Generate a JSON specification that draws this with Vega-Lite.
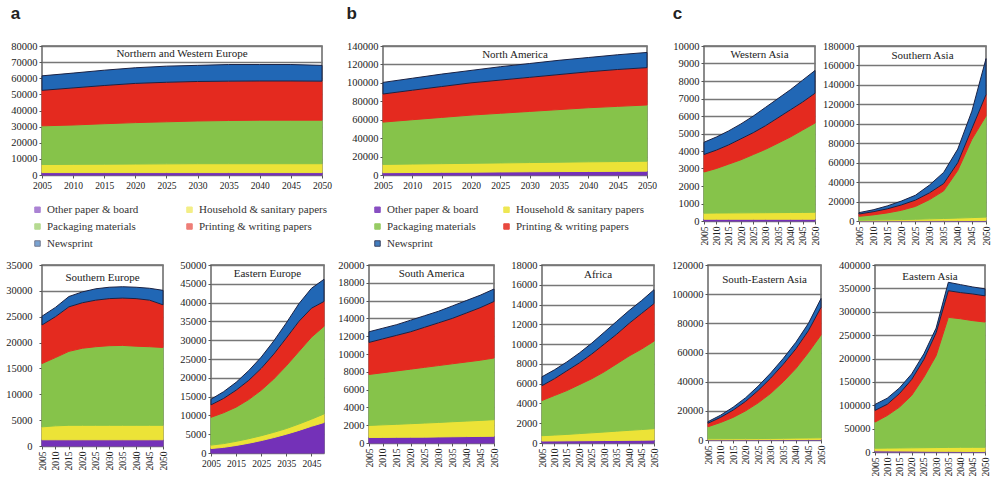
{
"$schema": "https://vega.github.io/schema/vega-lite/v6.json",
"padding": {"left": 5, "top": 4, "right": 0, "bottom": 0},
"background": "white",
"config": {
 "font": "Liberation Serif",
 "view": {"stroke": "#666", "strokeWidth": 1.5},
 "axis": {"labelFont": "Liberation Serif", "labelColor": "#222", "domain": false, "tickColor": "#555", "tickSize": 3, "labelPadding": 2, "gridColor": "#777", "gridWidth": 1.3, "labelFlush": false, "labelOverlap": false},
 "axisY": {"labelFontSize": 10.5, "grid": true},
 "axisX": {"labelFontSize": 9.5, "grid": false},
 "title": {"font": "Liberation Sans", "fontSize": 17, "fontWeight": "bold", "color": "#222", "anchor": "start", "frame": "bounds", "offset": 18},
 "text": {"font": "Liberation Serif", "fontSize": 11, "color": "#222"},
 "area": {"strokeWidth": 1}
},
"datasets": {
"NWE": [
{"yr":2005,"t":"a","v":1500},{"yr":2010,"t":"a","v":1500},{"yr":2015,"t":"a","v":1500},{"yr":2020,"t":"a","v":1500},{"yr":2025,"t":"a","v":1500},{"yr":2030,"t":"a","v":1500},{"yr":2035,"t":"a","v":1500},{"yr":2040,"t":"a","v":1500},{"yr":2045,"t":"a","v":1500},{"yr":2050,"t":"a","v":1500},
{"yr":2005,"t":"b","v":5000},{"yr":2010,"t":"b","v":5100},{"yr":2015,"t":"b","v":5200},{"yr":2020,"t":"b","v":5300},{"yr":2025,"t":"b","v":5400},{"yr":2030,"t":"b","v":5500},{"yr":2035,"t":"b","v":5500},{"yr":2040,"t":"b","v":5500},{"yr":2045,"t":"b","v":5500},{"yr":2050,"t":"b","v":5500},
{"yr":2005,"t":"c","v":24000},{"yr":2010,"t":"c","v":24400},{"yr":2015,"t":"c","v":25100},{"yr":2020,"t":"c","v":25700},{"yr":2025,"t":"c","v":26100},{"yr":2030,"t":"c","v":26500},{"yr":2035,"t":"c","v":26800},{"yr":2040,"t":"c","v":27000},{"yr":2045,"t":"c","v":27000},{"yr":2050,"t":"c","v":27000},
{"yr":2005,"t":"d","v":22000},{"yr":2010,"t":"d","v":23000},{"yr":2015,"t":"d","v":23700},{"yr":2020,"t":"d","v":24300},{"yr":2025,"t":"d","v":24500},{"yr":2030,"t":"d","v":24500},{"yr":2035,"t":"d","v":24400},{"yr":2040,"t":"d","v":24300},{"yr":2045,"t":"d","v":24300},{"yr":2050,"t":"d","v":24200},
{"yr":2005,"t":"e","v":9000},{"yr":2010,"t":"e","v":9200},{"yr":2015,"t":"e","v":9500},{"yr":2020,"t":"e","v":9700},{"yr":2025,"t":"e","v":10000},{"yr":2030,"t":"e","v":10000},{"yr":2035,"t":"e","v":10300},{"yr":2040,"t":"e","v":10200},{"yr":2045,"t":"e","v":10200},{"yr":2050,"t":"e","v":9800}
],
"SEur": [
{"yr":2005,"t":"a","v":1200},{"yr":2010,"t":"a","v":1200},{"yr":2015,"t":"a","v":1200},{"yr":2020,"t":"a","v":1200},{"yr":2025,"t":"a","v":1200},{"yr":2030,"t":"a","v":1200},{"yr":2035,"t":"a","v":1200},{"yr":2040,"t":"a","v":1200},{"yr":2045,"t":"a","v":1200},{"yr":2050,"t":"a","v":1200},
{"yr":2005,"t":"b","v":2500},{"yr":2010,"t":"b","v":2700},{"yr":2015,"t":"b","v":2800},{"yr":2020,"t":"b","v":2800},{"yr":2025,"t":"b","v":2800},{"yr":2030,"t":"b","v":2800},{"yr":2035,"t":"b","v":2800},{"yr":2040,"t":"b","v":2800},{"yr":2045,"t":"b","v":2800},{"yr":2050,"t":"b","v":2800},
{"yr":2005,"t":"c","v":12250},{"yr":2010,"t":"c","v":13200},{"yr":2015,"t":"c","v":14300},{"yr":2020,"t":"c","v":14900},{"yr":2025,"t":"c","v":15200},{"yr":2030,"t":"c","v":15400},{"yr":2035,"t":"c","v":15450},{"yr":2040,"t":"c","v":15300},{"yr":2045,"t":"c","v":15200},{"yr":2050,"t":"c","v":15050},
{"yr":2005,"t":"d","v":7450},{"yr":2010,"t":"d","v":7900},{"yr":2015,"t":"d","v":8600},{"yr":2020,"t":"d","v":8800},{"yr":2025,"t":"d","v":9000},{"yr":2030,"t":"d","v":9100},{"yr":2035,"t":"d","v":9150},{"yr":2040,"t":"d","v":9200},{"yr":2045,"t":"d","v":9000},{"yr":2050,"t":"d","v":8250},
{"yr":2005,"t":"e","v":1700},{"yr":2010,"t":"e","v":1800},{"yr":2015,"t":"e","v":2000},{"yr":2020,"t":"e","v":2100},{"yr":2025,"t":"e","v":2200},{"yr":2030,"t":"e","v":2200},{"yr":2035,"t":"e","v":2200},{"yr":2040,"t":"e","v":2200},{"yr":2045,"t":"e","v":2300},{"yr":2050,"t":"e","v":2800}
],
"EEur": [
{"yr":2005,"t":"a","v":1200},{"yr":2010,"t":"a","v":1500},{"yr":2015,"t":"a","v":2000},{"yr":2020,"t":"a","v":2600},{"yr":2025,"t":"a","v":3300},{"yr":2030,"t":"a","v":4100},{"yr":2035,"t":"a","v":5000},{"yr":2040,"t":"a","v":6000},{"yr":2045,"t":"a","v":7100},{"yr":2050,"t":"a","v":8100},
{"yr":2005,"t":"b","v":900},{"yr":2010,"t":"b","v":1000},{"yr":2015,"t":"b","v":1100},{"yr":2020,"t":"b","v":1200},{"yr":2025,"t":"b","v":1300},{"yr":2030,"t":"b","v":1400},{"yr":2035,"t":"b","v":1500},{"yr":2040,"t":"b","v":1700},{"yr":2045,"t":"b","v":1900},{"yr":2050,"t":"b","v":2300},
{"yr":2005,"t":"c","v":7400},{"yr":2010,"t":"c","v":8200},{"yr":2015,"t":"c","v":9100},{"yr":2020,"t":"c","v":10400},{"yr":2025,"t":"c","v":12100},{"yr":2030,"t":"c","v":14200},{"yr":2035,"t":"c","v":16700},{"yr":2040,"t":"c","v":19300},{"yr":2045,"t":"c","v":21800},{"yr":2050,"t":"c","v":23300},
{"yr":2005,"t":"d","v":3300},{"yr":2010,"t":"d","v":3800},{"yr":2015,"t":"d","v":4500},{"yr":2020,"t":"d","v":5100},{"yr":2025,"t":"d","v":5800},{"yr":2030,"t":"d","v":6600},{"yr":2035,"t":"d","v":7400},{"yr":2040,"t":"d","v":8000},{"yr":2045,"t":"d","v":7700},{"yr":2050,"t":"d","v":6600},
{"yr":2005,"t":"e","v":1500},{"yr":2010,"t":"e","v":1800},{"yr":2015,"t":"e","v":2100},{"yr":2020,"t":"e","v":2600},{"yr":2025,"t":"e","v":3000},{"yr":2030,"t":"e","v":3500},{"yr":2035,"t":"e","v":4000},{"yr":2040,"t":"e","v":4700},{"yr":2045,"t":"e","v":5300},{"yr":2050,"t":"e","v":5900}
],
"NA": [
{"yr":2005,"t":"a","v":2500},{"yr":2010,"t":"a","v":2700},{"yr":2015,"t":"a","v":2900},{"yr":2020,"t":"a","v":3100},{"yr":2025,"t":"a","v":3300},{"yr":2030,"t":"a","v":3500},{"yr":2035,"t":"a","v":3700},{"yr":2040,"t":"a","v":3800},{"yr":2045,"t":"a","v":4000},{"yr":2050,"t":"a","v":4200},
{"yr":2005,"t":"b","v":9000},{"yr":2010,"t":"b","v":9200},{"yr":2015,"t":"b","v":9400},{"yr":2020,"t":"b","v":9600},{"yr":2025,"t":"b","v":9800},{"yr":2030,"t":"b","v":10000},{"yr":2035,"t":"b","v":10200},{"yr":2040,"t":"b","v":10500},{"yr":2045,"t":"b","v":10600},{"yr":2050,"t":"b","v":10800},
{"yr":2005,"t":"c","v":45900},{"yr":2010,"t":"c","v":48100},{"yr":2015,"t":"c","v":50200},{"yr":2020,"t":"c","v":52300},{"yr":2025,"t":"c","v":53900},{"yr":2030,"t":"c","v":55500},{"yr":2035,"t":"c","v":57100},{"yr":2040,"t":"c","v":58700},{"yr":2045,"t":"c","v":59900},{"yr":2050,"t":"c","v":61000},
{"yr":2005,"t":"d","v":30500},{"yr":2010,"t":"d","v":32000},{"yr":2015,"t":"d","v":33500},{"yr":2020,"t":"d","v":35000},{"yr":2025,"t":"d","v":36000},{"yr":2030,"t":"d","v":37000},{"yr":2035,"t":"d","v":38000},{"yr":2040,"t":"d","v":39000},{"yr":2045,"t":"d","v":40000},{"yr":2050,"t":"d","v":40500},
{"yr":2005,"t":"e","v":12600},{"yr":2010,"t":"e","v":13000},{"yr":2015,"t":"e","v":13500},{"yr":2020,"t":"e","v":13500},{"yr":2025,"t":"e","v":14500},{"yr":2030,"t":"e","v":15000},{"yr":2035,"t":"e","v":15500},{"yr":2040,"t":"e","v":15500},{"yr":2045,"t":"e","v":16000},{"yr":2050,"t":"e","v":16500}
],
"SAm": [
{"yr":2005,"t":"a","v":620},{"yr":2010,"t":"a","v":630},{"yr":2015,"t":"a","v":640},{"yr":2020,"t":"a","v":650},{"yr":2025,"t":"a","v":660},{"yr":2030,"t":"a","v":680},{"yr":2035,"t":"a","v":700},{"yr":2040,"t":"a","v":720},{"yr":2045,"t":"a","v":740},{"yr":2050,"t":"a","v":760},
{"yr":2005,"t":"b","v":1360},{"yr":2010,"t":"b","v":1410},{"yr":2015,"t":"b","v":1460},{"yr":2020,"t":"b","v":1520},{"yr":2025,"t":"b","v":1580},{"yr":2030,"t":"b","v":1630},{"yr":2035,"t":"b","v":1690},{"yr":2040,"t":"b","v":1740},{"yr":2045,"t":"b","v":1800},{"yr":2050,"t":"b","v":1860},
{"yr":2005,"t":"c","v":5720},{"yr":2010,"t":"c","v":5860},{"yr":2015,"t":"c","v":6000},{"yr":2020,"t":"c","v":6130},{"yr":2025,"t":"c","v":6260},{"yr":2030,"t":"c","v":6390},{"yr":2035,"t":"c","v":6510},{"yr":2040,"t":"c","v":6640},{"yr":2045,"t":"c","v":6760},{"yr":2050,"t":"c","v":6930},
{"yr":2005,"t":"d","v":3600},{"yr":2010,"t":"d","v":3800},{"yr":2015,"t":"d","v":4000},{"yr":2020,"t":"d","v":4200},{"yr":2025,"t":"d","v":4500},{"yr":2030,"t":"d","v":4800},{"yr":2035,"t":"d","v":5100},{"yr":2040,"t":"d","v":5500},{"yr":2045,"t":"d","v":5900},{"yr":2050,"t":"d","v":6350},
{"yr":2005,"t":"e","v":1200},{"yr":2010,"t":"e","v":1200},{"yr":2015,"t":"e","v":1200},{"yr":2020,"t":"e","v":1300},{"yr":2025,"t":"e","v":1300},{"yr":2030,"t":"e","v":1300},{"yr":2035,"t":"e","v":1400},{"yr":2040,"t":"e","v":1400},{"yr":2045,"t":"e","v":1400},{"yr":2050,"t":"e","v":1400}
],
"Afr": [
{"yr":2005,"t":"a","v":200},{"yr":2010,"t":"a","v":210},{"yr":2015,"t":"a","v":220},{"yr":2020,"t":"a","v":230},{"yr":2025,"t":"a","v":240},{"yr":2030,"t":"a","v":250},{"yr":2035,"t":"a","v":260},{"yr":2040,"t":"a","v":270},{"yr":2045,"t":"a","v":280},{"yr":2050,"t":"a","v":300},
{"yr":2005,"t":"b","v":540},{"yr":2010,"t":"b","v":590},{"yr":2015,"t":"b","v":650},{"yr":2020,"t":"b","v":720},{"yr":2025,"t":"b","v":790},{"yr":2030,"t":"b","v":860},{"yr":2035,"t":"b","v":940},{"yr":2040,"t":"b","v":1010},{"yr":2045,"t":"b","v":1080},{"yr":2050,"t":"b","v":1150},
{"yr":2005,"t":"c","v":3560},{"yr":2010,"t":"c","v":4000},{"yr":2015,"t":"c","v":4430},{"yr":2020,"t":"c","v":4950},{"yr":2025,"t":"c","v":5470},{"yr":2030,"t":"c","v":6090},{"yr":2035,"t":"c","v":6800},{"yr":2040,"t":"c","v":7520},{"yr":2045,"t":"c","v":8140},{"yr":2050,"t":"c","v":8850},
{"yr":2005,"t":"d","v":1500},{"yr":2010,"t":"d","v":1700},{"yr":2015,"t":"d","v":2000},{"yr":2020,"t":"d","v":2200},{"yr":2025,"t":"d","v":2500},{"yr":2030,"t":"d","v":2800},{"yr":2035,"t":"d","v":3000},{"yr":2040,"t":"d","v":3300},{"yr":2045,"t":"d","v":3600},{"yr":2050,"t":"d","v":3800},
{"yr":2005,"t":"e","v":900},{"yr":2010,"t":"e","v":900},{"yr":2015,"t":"e","v":900},{"yr":2020,"t":"e","v":1000},{"yr":2025,"t":"e","v":1100},{"yr":2030,"t":"e","v":1200},{"yr":2035,"t":"e","v":1300},{"yr":2040,"t":"e","v":1300},{"yr":2045,"t":"e","v":1300},{"yr":2050,"t":"e","v":1400}
],
"WAsia": [
{"yr":2005,"t":"a","v":100},{"yr":2010,"t":"a","v":100},{"yr":2015,"t":"a","v":100},{"yr":2020,"t":"a","v":100},{"yr":2025,"t":"a","v":100},{"yr":2030,"t":"a","v":100},{"yr":2035,"t":"a","v":100},{"yr":2040,"t":"a","v":100},{"yr":2045,"t":"a","v":100},{"yr":2050,"t":"a","v":100},
{"yr":2005,"t":"b","v":350},{"yr":2010,"t":"b","v":355},{"yr":2015,"t":"b","v":360},{"yr":2020,"t":"b","v":365},{"yr":2025,"t":"b","v":370},{"yr":2030,"t":"b","v":375},{"yr":2035,"t":"b","v":380},{"yr":2040,"t":"b","v":385},{"yr":2045,"t":"b","v":390},{"yr":2050,"t":"b","v":400},
{"yr":2005,"t":"c","v":2350},{"yr":2010,"t":"c","v":2545},{"yr":2015,"t":"c","v":2790},{"yr":2020,"t":"c","v":3035},{"yr":2025,"t":"c","v":3330},{"yr":2030,"t":"c","v":3625},{"yr":2035,"t":"c","v":3970},{"yr":2040,"t":"c","v":4315},{"yr":2045,"t":"c","v":4710},{"yr":2050,"t":"c","v":5100},
{"yr":2005,"t":"d","v":1000},{"yr":2010,"t":"d","v":1050},{"yr":2015,"t":"d","v":1100},{"yr":2020,"t":"d","v":1200},{"yr":2025,"t":"d","v":1250},{"yr":2030,"t":"d","v":1350},{"yr":2035,"t":"d","v":1450},{"yr":2040,"t":"d","v":1550},{"yr":2045,"t":"d","v":1600},{"yr":2050,"t":"d","v":1700},
{"yr":2005,"t":"e","v":700},{"yr":2010,"t":"e","v":750},{"yr":2015,"t":"e","v":800},{"yr":2020,"t":"e","v":850},{"yr":2025,"t":"e","v":950},{"yr":2030,"t":"e","v":1050},{"yr":2035,"t":"e","v":1100},{"yr":2040,"t":"e","v":1150},{"yr":2045,"t":"e","v":1250},{"yr":2050,"t":"e","v":1300}
],
"SAsia": [
{"yr":2005,"t":"a","v":200},{"yr":2010,"t":"a","v":220},{"yr":2015,"t":"a","v":250},{"yr":2020,"t":"a","v":280},{"yr":2025,"t":"a","v":320},{"yr":2030,"t":"a","v":360},{"yr":2035,"t":"a","v":400},{"yr":2040,"t":"a","v":450},{"yr":2045,"t":"a","v":500},{"yr":2050,"t":"a","v":550},
{"yr":2005,"t":"b","v":600},{"yr":2010,"t":"b","v":780},{"yr":2015,"t":"b","v":950},{"yr":2020,"t":"b","v":1220},{"yr":2025,"t":"b","v":1480},{"yr":2030,"t":"b","v":1840},{"yr":2035,"t":"b","v":2200},{"yr":2040,"t":"b","v":2550},{"yr":2045,"t":"b","v":3000},{"yr":2050,"t":"b","v":3450},
{"yr":2005,"t":"c","v":4000},{"yr":2010,"t":"c","v":5300},{"yr":2015,"t":"c","v":7100},{"yr":2020,"t":"c","v":9500},{"yr":2025,"t":"c","v":13200},{"yr":2030,"t":"c","v":19800},{"yr":2035,"t":"c","v":28400},{"yr":2040,"t":"c","v":49000},{"yr":2045,"t":"c","v":80500},{"yr":2050,"t":"c","v":104000},
{"yr":2005,"t":"d","v":2400},{"yr":2010,"t":"d","v":3200},{"yr":2015,"t":"d","v":4200},{"yr":2020,"t":"d","v":5500},{"yr":2025,"t":"d","v":6500},{"yr":2030,"t":"d","v":7000},{"yr":2035,"t":"d","v":7500},{"yr":2040,"t":"d","v":8000},{"yr":2045,"t":"d","v":11000},{"yr":2050,"t":"d","v":22000},
{"yr":2005,"t":"e","v":1400},{"yr":2010,"t":"e","v":2000},{"yr":2015,"t":"e","v":3000},{"yr":2020,"t":"e","v":4000},{"yr":2025,"t":"e","v":5000},{"yr":2030,"t":"e","v":8000},{"yr":2035,"t":"e","v":11500},{"yr":2040,"t":"e","v":14000},{"yr":2045,"t":"e","v":18000},{"yr":2050,"t":"e","v":37000}
],
"SEAsia": [
{"yr":2005,"t":"a","v":200},{"yr":2010,"t":"a","v":220},{"yr":2015,"t":"a","v":240},{"yr":2020,"t":"a","v":260},{"yr":2025,"t":"a","v":280},{"yr":2030,"t":"a","v":300},{"yr":2035,"t":"a","v":320},{"yr":2040,"t":"a","v":340},{"yr":2045,"t":"a","v":360},{"yr":2050,"t":"a","v":380},
{"yr":2005,"t":"b","v":600},{"yr":2010,"t":"b","v":630},{"yr":2015,"t":"b","v":660},{"yr":2020,"t":"b","v":690},{"yr":2025,"t":"b","v":720},{"yr":2030,"t":"b","v":800},{"yr":2035,"t":"b","v":880},{"yr":2040,"t":"b","v":960},{"yr":2045,"t":"b","v":1040},{"yr":2050,"t":"b","v":1120},
{"yr":2005,"t":"c","v":8300},{"yr":2010,"t":"c","v":11150},{"yr":2015,"t":"c","v":14600},{"yr":2020,"t":"c","v":19050},{"yr":2025,"t":"c","v":24500},{"yr":2030,"t":"c","v":30900},{"yr":2035,"t":"c","v":38800},{"yr":2040,"t":"c","v":47700},{"yr":2045,"t":"c","v":58600},{"yr":2050,"t":"c","v":70500},
{"yr":2005,"t":"d","v":2400},{"yr":2010,"t":"d","v":3500},{"yr":2015,"t":"d","v":5000},{"yr":2020,"t":"d","v":6500},{"yr":2025,"t":"d","v":8500},{"yr":2030,"t":"d","v":10500},{"yr":2035,"t":"d","v":12000},{"yr":2040,"t":"d","v":13500},{"yr":2045,"t":"d","v":15000},{"yr":2050,"t":"d","v":19000},
{"yr":2005,"t":"e","v":1100},{"yr":2010,"t":"e","v":1500},{"yr":2015,"t":"e","v":2000},{"yr":2020,"t":"e","v":2500},{"yr":2025,"t":"e","v":3000},{"yr":2030,"t":"e","v":3500},{"yr":2035,"t":"e","v":4000},{"yr":2040,"t":"e","v":4500},{"yr":2045,"t":"e","v":5000},{"yr":2050,"t":"e","v":6000}
],
"EAsia": [
{"yr":2005,"t":"a","v":2500},{"yr":2010,"t":"a","v":2300},{"yr":2015,"t":"a","v":2100},{"yr":2020,"t":"a","v":1900},{"yr":2025,"t":"a","v":1700},{"yr":2030,"t":"a","v":1500},{"yr":2035,"t":"a","v":1400},{"yr":2040,"t":"a","v":1300},{"yr":2045,"t":"a","v":1200},{"yr":2050,"t":"a","v":1100},
{"yr":2005,"t":"b","v":5500},{"yr":2010,"t":"b","v":6000},{"yr":2015,"t":"b","v":6500},{"yr":2020,"t":"b","v":7000},{"yr":2025,"t":"b","v":7500},{"yr":2030,"t":"b","v":8000},{"yr":2035,"t":"b","v":8400},{"yr":2040,"t":"b","v":8700},{"yr":2045,"t":"b","v":8800},{"yr":2050,"t":"b","v":8900},
{"yr":2005,"t":"c","v":56000},{"yr":2010,"t":"c","v":69700},{"yr":2015,"t":"c","v":87400},{"yr":2020,"t":"c","v":112100},{"yr":2025,"t":"c","v":150800},{"yr":2030,"t":"c","v":196500},{"yr":2035,"t":"c","v":278200},{"yr":2040,"t":"c","v":275000},{"yr":2045,"t":"c","v":271000},{"yr":2050,"t":"c","v":268000},
{"yr":2005,"t":"d","v":25000},{"yr":2010,"t":"d","v":24000},{"yr":2015,"t":"d","v":29000},{"yr":2020,"t":"d","v":34000},{"yr":2025,"t":"d","v":38000},{"yr":2030,"t":"d","v":49000},{"yr":2035,"t":"d","v":57000},{"yr":2040,"t":"d","v":56000},{"yr":2045,"t":"d","v":57000},{"yr":2050,"t":"d","v":56000},
{"yr":2005,"t":"e","v":12800},{"yr":2010,"t":"e","v":13000},{"yr":2015,"t":"e","v":12000},{"yr":2020,"t":"e","v":12000},{"yr":2025,"t":"e","v":12000},{"yr":2030,"t":"e","v":10000},{"yr":2035,"t":"e","v":18000},{"yr":2040,"t":"e","v":17000},{"yr":2045,"t":"e","v":15000},{"yr":2050,"t":"e","v":15000}
]
},
"resolve": {"scale": {"color": "independent", "stroke": "independent"}},
"spacing": 9,
"vconcat": [
{"resolve": {"scale": {"color": "independent", "stroke": "independent"}}, "spacing": 14, "hconcat": [
 {"resolve": {"scale": {"color": "independent", "stroke": "independent"}}, "spacing": 12, "hconcat": [
  {"width": 280, "height": 129, "title": {"text": "a"},
   "layer": [
    {"data": {"name": "NWE"}, "mark": {"type": "area"},
     "encoding": {
      "x": {"field": "yr", "type": "quantitative", "scale": {"domain": [2005, 2050], "nice": false, "zero": false}, "axis": {"title": null, "tickCount": 50, "values": [2005,2010,2015,2020,2025,2030,2035,2040,2045,2050], "format": "d", "labelAngle": 0}},
      "y": {"field": "v", "type": "quantitative", "stack": "zero", "scale": {"domain": [0, 80000], "nice": false}, "axis": {"title": null, "tickCount": 50, "values": [0,10000,20000,30000,40000,50000,60000,70000,80000], "format": "d"}},
      "order": {"field": "t", "sort": "ascending"},
      "color": {"field": "t", "type": "nominal", "scale": {"domain": ["a","b","c","d","e"], "range": ["#7431b8","#ece337","#86c34a","#e42a1f","#2167b5"]},
        "legend": {"orient": "none", "direction": "horizontal", "legendX": -10, "legendY": 158, "columns": 2, "title": null, "symbolType": "square", "symbolSize": 30, "symbolOpacity": 0.6, "symbolStrokeWidth": 0, "labelFont": "Liberation Serif", "labelFontSize": 11, "labelColor": "#333", "columnPadding": 45, "rowPadding": 5,
          "labelExpr": "datum.value == 'a' ? 'Other paper & board' : datum.value == 'b' ? 'Household & sanitary papers' : datum.value == 'c' ? 'Packaging materials' : datum.value == 'd' ? 'Printing & writing papers' : 'Newsprint'"}},
      "stroke": {"field": "t", "type": "nominal", "scale": {"domain": ["a","b","c","d","e"], "range": ["#7431b8","#ece337","#86c34a","#e42a1f","#1b2244"]}, "legend": null}
     }},
    {"data": {"values": [{"label": "Northern and Western Europe"}]}, "mark": {"type": "text"},
     "encoding": {"x": {"datum": 2027.5}, "y": {"datum": 75000}, "text": {"field": "label"}}}
   ]},
  {"width": 264, "height": 129, "title": {"text": "b"},
   "layer": [
    {"data": {"name": "NA"}, "mark": {"type": "area"},
     "encoding": {
      "x": {"field": "yr", "type": "quantitative", "scale": {"domain": [2005, 2050], "nice": false, "zero": false}, "axis": {"title": null, "tickCount": 50, "values": [2005,2010,2015,2020,2025,2030,2035,2040,2045,2050], "format": "d", "labelAngle": 0}},
      "y": {"field": "v", "type": "quantitative", "stack": "zero", "scale": {"domain": [0, 140000], "nice": false}, "axis": {"title": null, "tickCount": 50, "values": [0,20000,40000,60000,80000,100000,120000,140000], "format": "d"}},
      "order": {"field": "t", "sort": "ascending"},
      "color": {"field": "t", "type": "nominal", "scale": {"domain": ["a","b","c","d","e"], "range": ["#7431b8","#ece337","#86c34a","#e42a1f","#2167b5"]},
        "legend": {"orient": "none", "direction": "horizontal", "legendX": -11, "legendY": 158, "columns": 2, "title": null, "symbolType": "square", "symbolSize": 30, "symbolOpacity": 0.85, "symbolStrokeWidth": 0, "labelFont": "Liberation Serif", "labelFontSize": 11, "labelColor": "#333", "columnPadding": 22, "rowPadding": 5,
          "labelExpr": "datum.value == 'a' ? 'Other paper & board' : datum.value == 'b' ? 'Household & sanitary papers' : datum.value == 'c' ? 'Packaging materials' : datum.value == 'd' ? 'Printing & writing papers' : 'Newsprint'"}},
      "stroke": {"field": "t", "type": "nominal", "scale": {"domain": ["a","b","c","d","e"], "range": ["#7431b8","#ece337","#86c34a","#e42a1f","#1b2244"]}, "legend": null}
     }},
    {"data": {"values": [{"label": "North America"}]}, "mark": {"type": "text"},
     "encoding": {"x": {"datum": 2027.5}, "y": {"datum": 130000}, "text": {"field": "label"}}}
   ]}
 ]},
 {"resolve": {"scale": {"color": "independent", "stroke": "independent"}}, "spacing": 0, "hconcat": [
  {"width": 111, "height": 175, "title": {"text": "c"},
   "layer": [
    {"data": {"name": "WAsia"}, "mark": {"type": "area"},
     "encoding": {
      "x": {"field": "yr", "type": "quantitative", "scale": {"domain": [2005, 2050], "nice": false, "zero": false}, "axis": {"title": null, "tickCount": 50, "values": [2005,2010,2015,2020,2025,2030,2035,2040,2045,2050], "format": "d", "labelAngle": -90}},
      "y": {"field": "v", "type": "quantitative", "stack": "zero", "scale": {"domain": [0, 10000], "nice": false}, "axis": {"title": null, "tickCount": 50, "values": [0,1000,2000,3000,4000,5000,6000,7000,8000,9000,10000], "format": "d"}},
      "order": {"field": "t", "sort": "ascending"},
      "color": {"field": "t", "type": "nominal", "scale": {"domain": ["a","b","c","d","e"], "range": ["#7431b8","#ece337","#86c34a","#e42a1f","#2167b5"]}, "legend": null},
      "stroke": {"field": "t", "type": "nominal", "scale": {"domain": ["a","b","c","d","e"], "range": ["#7431b8","#ece337","#86c34a","#e42a1f","#1b2244"]}, "legend": null}
     }},
    {"data": {"values": [{"label": "Western Asia"}]}, "mark": {"type": "text"},
     "encoding": {"x": {"datum": 2027.5}, "y": {"datum": 9500}, "text": {"field": "label"}}}
   ]},
  {"width": 127, "height": 175,
   "layer": [
    {"data": {"name": "SAsia"}, "mark": {"type": "area"},
     "encoding": {
      "x": {"field": "yr", "type": "quantitative", "scale": {"domain": [2005, 2050], "nice": false, "zero": false}, "axis": {"title": null, "tickCount": 50, "values": [2005,2010,2015,2020,2025,2030,2035,2040,2045,2050], "format": "d", "labelAngle": -90}},
      "y": {"field": "v", "type": "quantitative", "stack": "zero", "scale": {"domain": [0, 180000], "nice": false}, "axis": {"title": null, "tickCount": 50, "values": [0,20000,40000,60000,80000,100000,120000,140000,160000,180000], "format": "d"}},
      "order": {"field": "t", "sort": "ascending"},
      "color": {"field": "t", "type": "nominal", "scale": {"domain": ["a","b","c","d","e"], "range": ["#7431b8","#ece337","#86c34a","#e42a1f","#2167b5"]}, "legend": null},
      "stroke": {"field": "t", "type": "nominal", "scale": {"domain": ["a","b","c","d","e"], "range": ["#7431b8","#ece337","#86c34a","#e42a1f","#1b2244"]}, "legend": null}
     }},
    {"data": {"values": [{"label": "Southern Asia"}]}, "mark": {"type": "text"},
     "encoding": {"x": {"datum": 2027.5}, "y": {"datum": 170000}, "text": {"field": "label"}}}
   ]}
 ]}
]},
{"resolve": {"scale": {"color": "independent", "stroke": "independent"}}, "spacing": 10, "hconcat": [
  {"width": 121, "height": 181,
   "layer": [
    {"data": {"name": "SEur"}, "mark": {"type": "area"},
     "encoding": {
      "x": {"field": "yr", "type": "quantitative", "scale": {"domain": [2005, 2050], "nice": false, "zero": false}, "axis": {"title": null, "tickCount": 50, "values": [2005,2010,2015,2020,2025,2030,2035,2040,2045,2050], "format": "d", "labelAngle": -90}},
      "y": {"field": "v", "type": "quantitative", "stack": "zero", "scale": {"domain": [0, 35000], "nice": false}, "axis": {"title": null, "tickCount": 50, "values": [0,5000,10000,15000,20000,25000,30000,35000], "format": "d", "labelPadding": 7}},
      "order": {"field": "t", "sort": "ascending"},
      "color": {"field": "t", "type": "nominal", "scale": {"domain": ["a","b","c","d","e"], "range": ["#7431b8","#ece337","#86c34a","#e42a1f","#2167b5"]}, "legend": null},
      "stroke": {"field": "t", "type": "nominal", "scale": {"domain": ["a","b","c","d","e"], "range": ["#7431b8","#ece337","#86c34a","#e42a1f","#1b2244"]}, "legend": null}
     }},
    {"data": {"values": [{"label": "Southern Europe"}]}, "mark": {"type": "text"},
     "encoding": {"x": {"datum": 2027.5}, "y": {"datum": 32500}, "text": {"field": "label"}}}
   ]},
  {"width": 113, "height": 188,
   "layer": [
    {"data": {"name": "EEur"}, "mark": {"type": "area"},
     "encoding": {
      "x": {"field": "yr", "type": "quantitative", "scale": {"domain": [2005, 2050], "nice": false, "zero": false}, "axis": {"title": null, "tickCount": 50, "values": [2005,2015,2025,2035,2045], "format": "d", "labelAngle": 0}},
      "y": {"field": "v", "type": "quantitative", "stack": "zero", "scale": {"domain": [0, 50000], "nice": false}, "axis": {"title": null, "tickCount": 50, "values": [0,5000,10000,15000,20000,25000,30000,35000,40000,45000,50000], "format": "d"}},
      "order": {"field": "t", "sort": "ascending"},
      "color": {"field": "t", "type": "nominal", "scale": {"domain": ["a","b","c","d","e"], "range": ["#7431b8","#ece337","#86c34a","#e42a1f","#2167b5"]}, "legend": null},
      "stroke": {"field": "t", "type": "nominal", "scale": {"domain": ["a","b","c","d","e"], "range": ["#7431b8","#ece337","#86c34a","#e42a1f","#1b2244"]}, "legend": null}
     }},
    {"data": {"values": [{"label": "Eastern Europe"}]}, "mark": {"type": "text"},
     "encoding": {"x": {"datum": 2027.5}, "y": {"datum": 47500}, "text": {"field": "label"}}}
   ]},
  {"width": 125, "height": 178,
   "layer": [
    {"data": {"name": "SAm"}, "mark": {"type": "area"},
     "encoding": {
      "x": {"field": "yr", "type": "quantitative", "scale": {"domain": [2005, 2050], "nice": false, "zero": false}, "axis": {"title": null, "tickCount": 50, "values": [2005,2010,2015,2020,2025,2030,2035,2040,2045,2050], "format": "d", "labelAngle": -90}},
      "y": {"field": "v", "type": "quantitative", "stack": "zero", "scale": {"domain": [0, 20000], "nice": false}, "axis": {"title": null, "tickCount": 50, "values": [0,2000,4000,6000,8000,10000,12000,14000,16000,18000,20000], "format": "d"}},
      "order": {"field": "t", "sort": "ascending"},
      "color": {"field": "t", "type": "nominal", "scale": {"domain": ["a","b","c","d","e"], "range": ["#7431b8","#ece337","#86c34a","#e42a1f","#2167b5"]}, "legend": null},
      "stroke": {"field": "t", "type": "nominal", "scale": {"domain": ["a","b","c","d","e"], "range": ["#7431b8","#ece337","#86c34a","#e42a1f","#1b2244"]}, "legend": null}
     }},
    {"data": {"values": [{"label": "South America"}]}, "mark": {"type": "text"},
     "encoding": {"x": {"datum": 2027.5}, "y": {"datum": 19000}, "text": {"field": "label"}}}
   ]},
  {"width": 112, "height": 178,
   "layer": [
    {"data": {"name": "Afr"}, "mark": {"type": "area"},
     "encoding": {
      "x": {"field": "yr", "type": "quantitative", "scale": {"domain": [2005, 2050], "nice": false, "zero": false}, "axis": {"title": null, "tickCount": 50, "values": [2005,2010,2015,2020,2025,2030,2035,2040,2045,2050], "format": "d", "labelAngle": -90}},
      "y": {"field": "v", "type": "quantitative", "stack": "zero", "scale": {"domain": [0, 18000], "nice": false}, "axis": {"title": null, "tickCount": 50, "values": [0,2000,4000,6000,8000,10000,12000,14000,16000,18000], "format": "d"}},
      "order": {"field": "t", "sort": "ascending"},
      "color": {"field": "t", "type": "nominal", "scale": {"domain": ["a","b","c","d","e"], "range": ["#7431b8","#ece337","#86c34a","#e42a1f","#2167b5"]}, "legend": null},
      "stroke": {"field": "t", "type": "nominal", "scale": {"domain": ["a","b","c","d","e"], "range": ["#7431b8","#ece337","#86c34a","#e42a1f","#1b2244"]}, "legend": null}
     }},
    {"data": {"values": [{"label": "Africa"}]}, "mark": {"type": "text"},
     "encoding": {"x": {"datum": 2027.5}, "y": {"datum": 17000}, "text": {"field": "label"}}}
   ]},
  {"width": 113, "height": 175,
   "layer": [
    {"data": {"name": "SEAsia"}, "mark": {"type": "area"},
     "encoding": {
      "x": {"field": "yr", "type": "quantitative", "scale": {"domain": [2005, 2050], "nice": false, "zero": false}, "axis": {"title": null, "tickCount": 50, "values": [2005,2010,2015,2020,2025,2030,2035,2040,2045,2050], "format": "d", "labelAngle": -90}},
      "y": {"field": "v", "type": "quantitative", "stack": "zero", "scale": {"domain": [0, 120000], "nice": false}, "axis": {"title": null, "tickCount": 50, "values": [0,20000,40000,60000,80000,100000,120000], "format": "d"}},
      "order": {"field": "t", "sort": "ascending"},
      "color": {"field": "t", "type": "nominal", "scale": {"domain": ["a","b","c","d","e"], "range": ["#7431b8","#ece337","#86c34a","#e42a1f","#2167b5"]}, "legend": null},
      "stroke": {"field": "t", "type": "nominal", "scale": {"domain": ["a","b","c","d","e"], "range": ["#7431b8","#ece337","#86c34a","#e42a1f","#1b2244"]}, "legend": null}
     }},
    {"data": {"values": [{"label": "South-Eastern Asia"}]}, "mark": {"type": "text"},
     "encoding": {"x": {"datum": 2027.5}, "y": {"datum": 110000}, "text": {"field": "label"}}}
   ]},
  {"width": 110, "height": 187,
   "layer": [
    {"data": {"name": "EAsia"}, "mark": {"type": "area"},
     "encoding": {
      "x": {"field": "yr", "type": "quantitative", "scale": {"domain": [2005, 2050], "nice": false, "zero": false}, "axis": {"title": null, "tickCount": 50, "values": [2005,2010,2015,2020,2025,2030,2035,2040,2045,2050], "format": "d", "labelAngle": -90}},
      "y": {"field": "v", "type": "quantitative", "stack": "zero", "scale": {"domain": [0, 400000], "nice": false}, "axis": {"title": null, "tickCount": 50, "values": [0,50000,100000,150000,200000,250000,300000,350000,400000], "format": "d"}},
      "order": {"field": "t", "sort": "ascending"},
      "color": {"field": "t", "type": "nominal", "scale": {"domain": ["a","b","c","d","e"], "range": ["#7431b8","#ece337","#86c34a","#e42a1f","#2167b5"]}, "legend": null},
      "stroke": {"field": "t", "type": "nominal", "scale": {"domain": ["a","b","c","d","e"], "range": ["#7431b8","#ece337","#86c34a","#e42a1f","#1b2244"]}, "legend": null}
     }},
    {"data": {"values": [{"label": "Eastern Asia"}]}, "mark": {"type": "text"},
     "encoding": {"x": {"datum": 2027.5}, "y": {"datum": 375000}, "text": {"field": "label"}}}
   ]}
]}
]
}
